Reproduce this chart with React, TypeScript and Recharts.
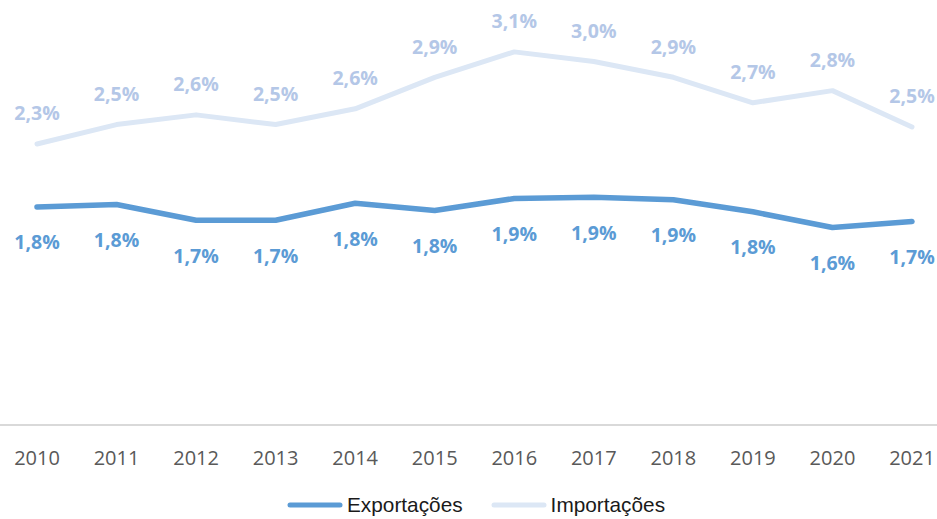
import { LineChart, Line, XAxis, YAxis, Legend, LabelList } from 'recharts'

const years = ['2010', '2011', '2012', '2013', '2014', '2015', '2016', '2017', '2018', '2019', '2020', '2021']
const exportacoes = [1.8, 1.82, 1.69, 1.69, 1.83, 1.77, 1.87, 1.88, 1.86, 1.76, 1.63, 1.68]
const importacoes = [2.32, 2.48, 2.56, 2.48, 2.61, 2.87, 3.08, 3.0, 2.87, 2.66, 2.76, 2.46]

const EXP_COLOR = '#5b9bd5'
const IMP_COLOR = '#dce7f5'
const IMP_LABEL = '#b4c7e7'

const data = years.map((year, i) => ({
  year,
  exp: exportacoes[i],
  imp: importacoes[i],
}))

const fmt = (v: number) => v.toFixed(1).replace('.', ',') + '%'

// labels above (imports) or below (exports) the point
const makeLabel = (dy: number, color: string) => (props: any) => {
  const { x, y, value } = props
  return (
    <text
      x={x}
      y={y + dy}
      textAnchor='middle'
      dominantBaseline='central'
      fill={color}
      fontFamily='"Open Sans", sans-serif'
      fontWeight={700}
      fontSize={19.5}>
      {fmt(value)}
    </text>
  )
}

const renderLegend = () => (
  <div
    style={{
      height: 28,
      display: 'flex',
      alignItems: 'center',
      paddingLeft: 287,
      fontFamily: '"Liberation Sans", Arial, sans-serif',
      fontSize: 20.8,
      color: '#1a1a1a',
    }}>
    <svg width={56} height={8} style={{ marginRight: 4 }}>
      <line x1={3} y1={4} x2={53} y2={4} stroke={EXP_COLOR} strokeWidth={5} strokeLinecap='round' />
    </svg>
    <span>Exportações</span>
    <svg width={56} height={8} style={{ marginLeft: 28, marginRight: 4 }}>
      <line x1={3} y1={4} x2={53} y2={4} stroke={IMP_COLOR} strokeWidth={5} strokeLinecap='round' />
    </svg>
    <span>Importações</span>
  </div>
)

export default function App() {
  return (
    <div style={{ position: 'absolute', left: 0, top: 0, background: '#fff' }}>
      <LineChart width={937} height={519} data={data} margin={{ top: 1, right: 0, left: 0, bottom: 0 }}>
        <XAxis
          dataKey='year'
          scale='point'
          padding={{ left: 37, right: 25 }}
          height={66}
          tickSize={0}
          tickMargin={26}
          axisLine={{ stroke: '#d9d9d9', strokeWidth: 2 }}
          tick={{ fill: '#595959', fontSize: 20, fontFamily: '"Open Sans", sans-serif' }}
        />
        <YAxis hide domain={[0, 3.5]} width={0} />
        <Legend verticalAlign='bottom' content={renderLegend} />
        <Line
          dataKey='imp'
          name='Importações'
          stroke={IMP_COLOR}
          strokeWidth={5}
          strokeLinecap='round'
          strokeLinejoin='round'
          dot={false}
          isAnimationActive={false}>
          <LabelList dataKey='imp' content={makeLabel(-31, IMP_LABEL)} />
        </Line>
        <Line
          dataKey='exp'
          name='Exportações'
          stroke={EXP_COLOR}
          strokeWidth={5.5}
          strokeLinecap='round'
          strokeLinejoin='round'
          dot={false}
          isAnimationActive={false}>
          <LabelList dataKey='exp' content={makeLabel(35, EXP_COLOR)} />
        </Line>
      </LineChart>
    </div>
  )
}
